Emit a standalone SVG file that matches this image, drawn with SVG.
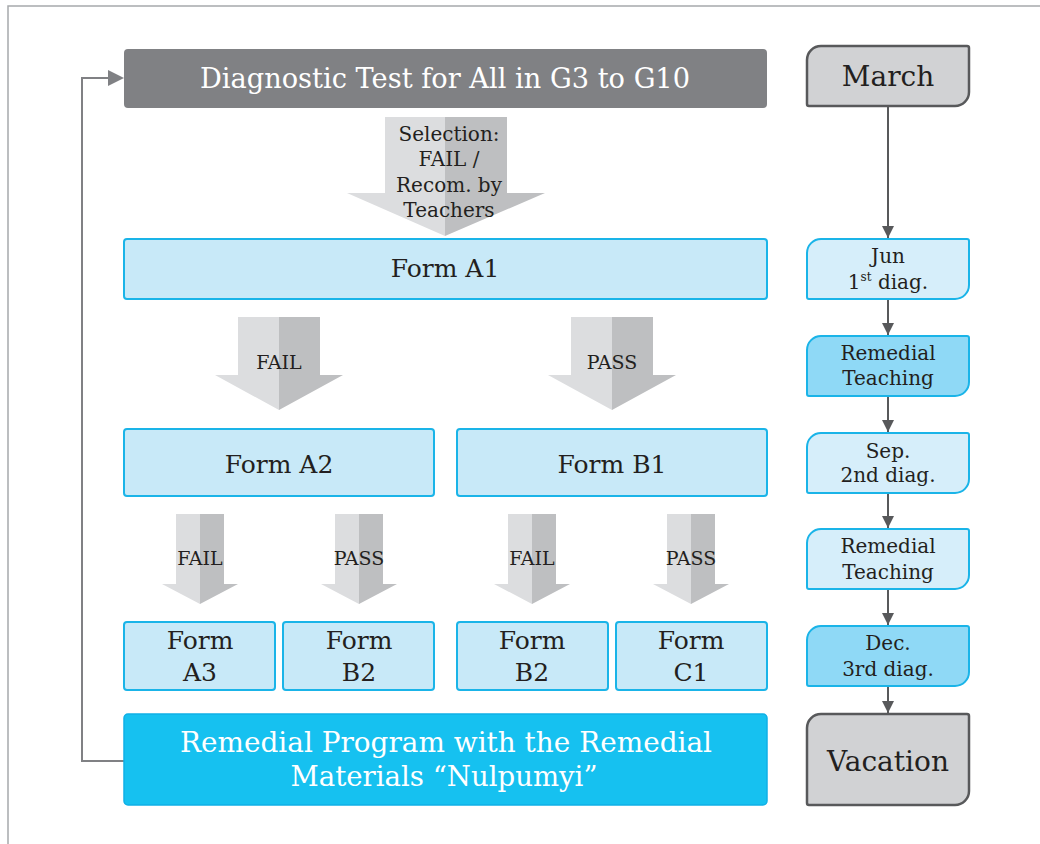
<svg xmlns="http://www.w3.org/2000/svg" width="1040" height="844" viewBox="0 0 1040 844">
  <defs>
    <style>
      .t { font-family: "DejaVu Serif", "Liberation Serif", serif; fill: #231f20; text-anchor: middle; }
      .w { font-family: "DejaVu Serif", "Liberation Serif", serif; fill: #ffffff; text-anchor: middle; }
      .form { fill: #c8e9f8; stroke: #1ab4e8; stroke-width: 2; }
      .tl-light { fill: #d6eefa; stroke: #1ab4e8; stroke-width: 2; }
      .tl-dark { fill: #8fd9f6; stroke: #1ab4e8; stroke-width: 2; }
      .tl-gray { fill: #d1d2d4; stroke: #58595b; stroke-width: 2.5; }
      .bl { fill: #dcdddf; }
      .br { fill: #bebfc1; }
      .link { fill: none; stroke: #58595b; stroke-width: 2; }
      .loop { fill: none; stroke: #808184; stroke-width: 2; }
    </style>
    <marker id="ah" viewBox="0 0 10 10" refX="10" refY="5" markerWidth="6" markerHeight="6" markerUnits="strokeWidth" orient="auto">
      <path d="M0,0 L10,5 L0,10 Z" fill="#58595b"/>
    </marker>
  </defs>

  <!-- page frame -->
  <path d="M8,844 V6 H1040" fill="none" stroke="#a7a9ac" stroke-width="1.5"/>

  <!-- connectors -->
  <g id="connectors">
    <path class="loop" d="M124,761 H82 V78 H110"/>
    <path d="M108,70 L124,78 L108,86 Z" fill="#808184"/>
    <line class="link" x1="888" y1="106" x2="888" y2="238" marker-end="url(#ah)"/>
    <line class="link" x1="888" y1="299" x2="888" y2="335" marker-end="url(#ah)"/>
    <line class="link" x1="888" y1="396" x2="888" y2="432" marker-end="url(#ah)"/>
    <line class="link" x1="888" y1="493" x2="888" y2="528" marker-end="url(#ah)"/>
    <line class="link" x1="888" y1="589" x2="888" y2="625" marker-end="url(#ah)"/>
    <line class="link" x1="888" y1="686" x2="888" y2="713" marker-end="url(#ah)"/>

    <!-- selection block arrow -->
    <g id="arrow-selection">
      <path class="bl" d="M385,117 H445 V236 L347,193 H385 Z"/>
      <path class="br" d="M445,117 H507 V193 H545 L445,236 Z"/>
      <text class="t" font-size="20" x="449" y="141">Selection:</text>
      <text class="t" font-size="20" x="449" y="166">FAIL /</text>
      <text class="t" font-size="20" x="449" y="192">Recom. by</text>
      <text class="t" font-size="20" x="449" y="217">Teachers</text>
    </g>

    <!-- level 2 block arrows -->
    <g id="arrow-fail-1">
      <path class="bl" d="M238,317 H279 V410 L215,375 H238 Z"/>
      <path class="br" d="M279,317 H320 V375 H343 L279,410 Z"/>
      <text class="t" font-size="19" x="279" y="369">FAIL</text>
    </g>
    <g id="arrow-pass-1">
      <path class="bl" d="M571,317 H612 V410 L548,375 H571 Z"/>
      <path class="br" d="M612,317 H653 V375 H676 L612,410 Z"/>
      <text class="t" font-size="19" x="612" y="369">PASS</text>
    </g>

    <!-- level 3 block arrows -->
    <g id="arrow-fail-2">
      <path class="bl" d="M176,514 H200 V604 L162,584 H176 Z"/>
      <path class="br" d="M200,514 H224 V584 H238 L200,604 Z"/>
      <text class="t" font-size="19" x="200" y="565">FAIL</text>
    </g>
    <g id="arrow-pass-2">
      <path class="bl" d="M335,514 H359 V604 L321,584 H335 Z"/>
      <path class="br" d="M359,514 H383 V584 H397 L359,604 Z"/>
      <text class="t" font-size="19" x="359" y="565">PASS</text>
    </g>
    <g id="arrow-fail-3">
      <path class="bl" d="M508,514 H532 V604 L494,584 H508 Z"/>
      <path class="br" d="M532,514 H556 V584 H570 L532,604 Z"/>
      <text class="t" font-size="19" x="532" y="565">FAIL</text>
    </g>
    <g id="arrow-pass-3">
      <path class="bl" d="M667,514 H691 V604 L653,584 H667 Z"/>
      <path class="br" d="M691,514 H715 V584 H729 L691,604 Z"/>
      <text class="t" font-size="19" x="691" y="565">PASS</text>
    </g>
  </g>

  <!-- main flow -->
  <g id="diagnostic-test">
    <rect x="124" y="49" width="643" height="59" rx="4" fill="#808184"/>
    <text class="w" font-size="28" x="445" y="88" textLength="490" lengthAdjust="spacingAndGlyphs">Diagnostic Test for All in G3 to G10</text>
  </g>

  <g id="form-a1">
    <rect class="form" x="124" y="239" width="643" height="60" rx="3"/>
    <text class="t" font-size="25" x="445" y="277">Form A1</text>
  </g>

  <g id="form-a2">
    <rect class="form" x="124" y="429" width="310" height="67" rx="3"/>
    <text class="t" font-size="25" x="279" y="473">Form A2</text>
  </g>
  <g id="form-b1">
    <rect class="form" x="457" y="429" width="310" height="67" rx="3"/>
    <text class="t" font-size="25" x="612" y="473">Form B1</text>
  </g>

  <g id="form-a3">
    <rect class="form" x="124" y="622" width="151" height="68" rx="3"/>
    <text class="t" font-size="25" x="200" y="649">Form</text>
    <text class="t" font-size="25" x="200" y="681">A3</text>
  </g>
  <g id="form-b2-left">
    <rect class="form" x="283" y="622" width="151" height="68" rx="3"/>
    <text class="t" font-size="25" x="359" y="649">Form</text>
    <text class="t" font-size="25" x="359" y="681">B2</text>
  </g>
  <g id="form-b2-right">
    <rect class="form" x="457" y="622" width="151" height="68" rx="3"/>
    <text class="t" font-size="25" x="532" y="649">Form</text>
    <text class="t" font-size="25" x="532" y="681">B2</text>
  </g>
  <g id="form-c1">
    <rect class="form" x="616" y="622" width="151" height="68" rx="3"/>
    <text class="t" font-size="25" x="691" y="649">Form</text>
    <text class="t" font-size="25" x="691" y="681">C1</text>
  </g>

  <g id="remedial-program">
    <rect x="124" y="714" width="643" height="91" rx="4" fill="#16c1f0" stroke="#0fb0e6" stroke-width="1.5"/>
    <text class="w" font-size="28" x="446" y="752" textLength="532" lengthAdjust="spacingAndGlyphs">Remedial Program with the Remedial</text>
    <text class="w" font-size="28" x="444" y="786" textLength="307" lengthAdjust="spacingAndGlyphs">Materials “Nulpumyi”</text>
  </g>

  <!-- timeline -->
  <g id="march">
    <path class="tl-gray" d="M821,46 H967 Q969,46 969,48 V92 A14,14 0 0 1 955,106 H809 Q807,106 807,104 V60 A14,14 0 0 1 821,46 Z"/>
    <text class="t" font-size="28" x="888" y="86">March</text>
  </g>
  <g id="jun">
    <path class="tl-light" d="M821,239 H967 Q969,239 969,241 V285 A14,14 0 0 1 955,299 H809 Q807,299 807,297 V253 A14,14 0 0 1 821,239 Z"/>
    <text class="t" font-size="20" x="888" y="263">Jun</text>
    <text class="t" font-size="20" x="888" y="289">1<tspan font-size="12" dy="-8">st</tspan><tspan dy="8"> diag.</tspan></text>
  </g>
  <g id="remedial-teaching-1">
    <path class="tl-dark" d="M821,336 H967 Q969,336 969,338 V382 A14,14 0 0 1 955,396 H809 Q807,396 807,394 V350 A14,14 0 0 1 821,336 Z"/>
    <text class="t" font-size="20" x="888" y="360">Remedial</text>
    <text class="t" font-size="20" x="888" y="385">Teaching</text>
  </g>
  <g id="sep">
    <path class="tl-light" d="M821,433 H967 Q969,433 969,435 V479 A14,14 0 0 1 955,493 H809 Q807,493 807,491 V447 A14,14 0 0 1 821,433 Z"/>
    <text class="t" font-size="20" x="888" y="458">Sep.</text>
    <text class="t" font-size="20" x="888" y="482">2nd diag.</text>
  </g>
  <g id="remedial-teaching-2">
    <path class="tl-light" d="M821,529 H967 Q969,529 969,531 V575 A14,14 0 0 1 955,589 H809 Q807,589 807,587 V543 A14,14 0 0 1 821,529 Z"/>
    <text class="t" font-size="20" x="888" y="553">Remedial</text>
    <text class="t" font-size="20" x="888" y="579">Teaching</text>
  </g>
  <g id="dec">
    <path class="tl-dark" d="M821,626 H967 Q969,626 969,628 V672 A14,14 0 0 1 955,686 H809 Q807,686 807,684 V640 A14,14 0 0 1 821,626 Z"/>
    <text class="t" font-size="20" x="888" y="650">Dec.</text>
    <text class="t" font-size="20" x="888" y="676">3rd diag.</text>
  </g>
  <g id="vacation">
    <path class="tl-gray" d="M821,714 H967 Q969,714 969,716 V791 A14,14 0 0 1 955,805 H809 Q807,805 807,803 V728 A14,14 0 0 1 821,714 Z"/>
    <text class="t" font-size="28" x="888" y="771" textLength="122" lengthAdjust="spacingAndGlyphs">Vacation</text>
  </g>
</svg>
